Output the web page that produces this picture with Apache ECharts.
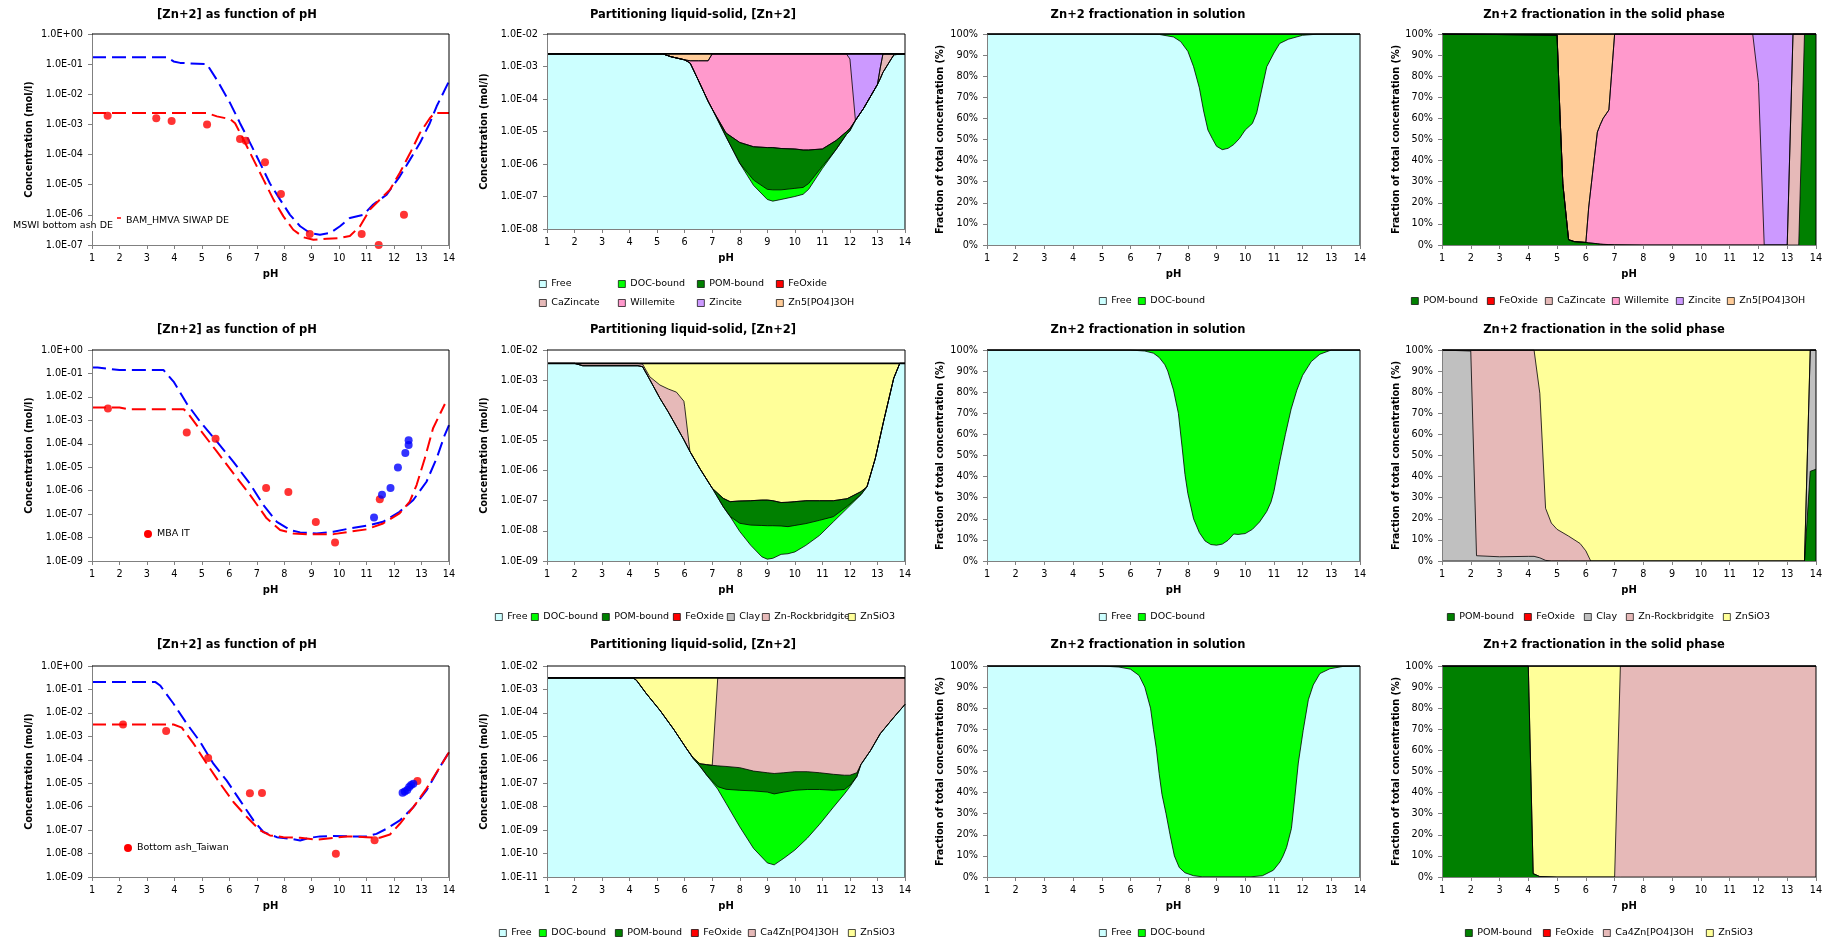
<!DOCTYPE html>
<html><head><meta charset="utf-8">
<script src="https://cdn.jsdelivr.net/npm/echarts@6.0.0/dist/echarts.min.js"></script>
<style>html,body{margin:0;padding:0;background:#fff}#c{width:1826px;height:941px}</style>
</head><body><div id="c"></div><script>
// ---------------- DATA ----------------
// Row 1, panel 1: [Zn+2] as function of pH
const p1_blue_pH = [1, 3.73, 3.97, 4.21, 5.18, 5.55, 6.03, 6.39, 6.76, 7.12, 7.48, 7.85, 8.21, 8.58, 8.94, 9.3, 9.67, 10.03, 10.39, 10.88, 11.24, 11.73, 12.21, 12.58, 12.94, 13.3, 13.55, 13.79, 14];
const p1_blue = [0.17, 0.17, 0.123, 0.11, 0.1, 0.03, 5.1e-3, 1.1e-3, 2.4e-4, 5.2e-5, 1.1e-5, 3.2e-6, 1.0e-6, 4.2e-7, 2.5e-7, 2.2e-7, 2.5e-7, 4.2e-7, 7.9e-7, 1.0e-6, 2.2e-6, 4.7e-6, 1.9e-5, 6.8e-5, 2.4e-4, 1.1e-3, 4.0e-3, 1.1e-2, 2.7e-2];
const p1_red_pH = [1, 5.18, 5.55, 6.03, 6.21, 6.52, 6.88, 7.24, 7.61, 7.97, 8.33, 8.7, 9.06, 9.55, 10.03, 10.39, 10.76, 11.12, 11.48, 11.85, 12.21, 12.58, 12.94, 13.3, 13.48, 14];
const p1_red = [2.4e-3, 2.4e-3, 1.85e-3, 1.5e-3, 1.1e-3, 3.1e-4, 6.8e-5, 1.5e-5, 3.2e-6, 8.9e-7, 3.2e-7, 1.8e-7, 1.5e-7, 1.6e-7, 1.7e-7, 2.0e-7, 4.2e-7, 1.5e-6, 3.2e-6, 6.8e-6, 2.5e-5, 1.1e-4, 5.2e-4, 1.6e-3, 2.4e-3, 2.4e-3];
const p1_dots = [[1.57,1.95e-3],[3.34,1.6e-3],[3.9,1.3e-3],[5.19,1.0e-3],[6.39,3.3e-4],[6.6,2.9e-4],[7.3,5.6e-5],[7.88,4.9e-6],[8.93,2.3e-7],[10.82,2.3e-7],[11.44,1.0e-7],[12.36,1.0e-6]];

// Row 1, panel 2: partitioning liquid-solid (cumulative upper edges of each layer)
const p2_pH = [1, 5.2, 5.5, 6, 6.2, 6.5, 6.85, 7, 7.5, 8, 8.5, 9, 9.2, 9.5, 10, 10.3, 10.5, 11, 11.5, 11.87, 12, 12.2, 12.5, 13, 13.1, 13.2, 13.5, 13.6, 14];
const p2_free = [2.45e-3, 2.45e-3, 2.0e-3, 1.6e-3, 1.27e-3, 3.7e-4, 8.5e-5, 4.9e-5, 6.9e-6, 1.05e-6, 2.2e-7, 8.1e-8, 7.2e-8, 8.1e-8, 1.0e-7, 1.17e-7, 1.66e-7, 7.3e-7, 2.8e-6, 8.0e-6, 1.05e-5, 2.2e-5, 5.2e-5, 2.8e-4, 4.2e-4, 6.6e-4, 1.7e-3, 2.3e-3, 2.45e-3];
const p2_doc = [2.45e-3, 2.45e-3, 2.0e-3, 1.6e-3, 1.27e-3, 3.7e-4, 8.5e-5, 4.9e-5, 6.9e-6, 1.05e-6, 3.2e-7, 1.66e-7, 1.6e-7, 1.6e-7, 1.78e-7, 1.9e-7, 2.5e-7, 8.5e-7, 2.8e-6, 8.0e-6, 1.05e-5, 2.2e-5, 5.2e-5, 2.8e-4, 4.2e-4, 6.6e-4, 1.7e-3, 2.3e-3, 2.45e-3];
const p2_pom = [2.45e-3, 2.45e-3, 2.0e-3, 1.6e-3, 1.27e-3, 3.7e-4, 8.5e-5, 4.9e-5, 9.0e-6, 4.6e-6, 3.4e-6, 3.2e-6, 3.2e-6, 3.0e-6, 2.9e-6, 2.7e-6, 2.7e-6, 2.9e-6, 5.3e-6, 9.8e-6, 1.23e-5, 2.2e-5, 5.2e-5, 2.8e-4, 4.2e-4, 6.6e-4, 1.7e-3, 2.3e-3, 2.45e-3];
const p2_caz = [2.45e-3, 2.45e-3, 2.0e-3, 1.6e-3, 1.27e-3, 3.7e-4, 8.5e-5, 4.9e-5, 9.0e-6, 4.6e-6, 3.4e-6, 3.2e-6, 3.2e-6, 3.0e-6, 2.9e-6, 2.7e-6, 2.7e-6, 2.9e-6, 5.3e-6, 9.8e-6, 1.23e-5, 2.2e-5, 5.2e-5, 2.8e-4, 8.9e-4, 2.45e-3, 2.45e-3, 2.45e-3, 2.45e-3];
const p2_will_pH = [1, 5.2, 5.5, 6, 6.2, 6.5, 6.85, 7, 11.87, 12, 12.2, 12.5, 13, 13.1, 13.2, 14];
const p2_will = [2.45e-3, 2.45e-3, 2.0e-3, 1.6e-3, 1.5e-3, 1.5e-3, 1.5e-3, 2.45e-3, 2.45e-3, 1.7e-3, 2.2e-5, 5.2e-5, 2.8e-4, 8.9e-4, 2.45e-3, 2.45e-3];
const p2_zinc_pH = [1, 5.2, 5.5, 6, 6.2, 6.5, 6.85, 7, 14];
const p2_zinc = [2.45e-3, 2.45e-3, 2.0e-3, 1.6e-3, 1.5e-3, 1.5e-3, 1.5e-3, 2.45e-3, 2.45e-3];
const p2_total_pH = [1, 14];
const p2_total = [2.45e-3, 2.45e-3];

// Row 1, panel 3: fractionation in solution (Free %, rest DOC-bound)
const p3_pH = [1, 6, 7.0, 7.5, 7.75, 8.0, 8.2, 8.4, 8.55, 8.7, 8.85, 9.0, 9.2, 9.4, 9.6, 9.8, 10.0, 10.25, 10.4, 10.55, 10.75, 11.0, 11.2, 11.5, 12.0, 12.5, 14];
const p3_free = [100, 100, 99.8, 98.6, 96.4, 91.8, 84.5, 74.5, 63.5, 54.5, 50.5, 46.8, 45.2, 45.8, 47.6, 50.5, 54.5, 57.6, 62.6, 72, 84.5, 91, 95.5, 97.5, 99.4, 99.9, 100];

// Row 1, panel 4: fractionation in the solid phase (cumulative %)
const p4_pH = [1, 5.0, 5.1, 5.2, 5.4, 5.6, 6.0, 6.1, 6.25, 6.4, 6.5, 6.6, 6.8, 7.0, 8.0, 11.8, 12.0, 12.2, 13.0, 13.2, 13.4, 13.6, 14];
const p4_pom = [100, 99.5, 62, 29, 2.5, 1.6, 1.2, 1.0, 0.8, 0.6, 0.4, 0.3, 0.2, 0.1, 0, 0, 0, 0, 0, 0, 0, 100, 100];
const p4_caz = [100, 99.5, 62, 29, 2.5, 1.6, 1.2, 1.0, 0.8, 0.6, 0.4, 0.3, 0.2, 0.1, 0, 0, 0, 0, 0, 100, 100, 100, 100];
const p4_will = [100, 99.5, 62, 29, 2.5, 1.6, 1.2, 18, 36, 53.5, 57, 60, 64, 100, 100, 100, 77, 0, 0, 100, 100, 100, 100];
const p4_zinc = [100, 99.5, 62, 29, 2.5, 1.6, 1.2, 18, 36, 53.5, 57, 60, 64, 100, 100, 100, 100, 100, 100, 100, 100, 100, 100];
const pct_top_pH = [1, 14];
const pct_top = [100, 100];

// Row 2, panel 5
const p5_blue_pH = [1, 1.2, 2.0, 3.6, 3.97, 4.45, 4.94, 5.55, 6.15, 6.76, 7.24, 7.73, 8.21, 8.58, 9.18, 9.79, 10.39, 11.0, 11.6, 12.2, 12.7, 13.18, 13.55, 13.84, 14];
const p5_blue = [0.178, 0.178, 0.141, 0.141, 0.045, 5.2e-3, 8.7e-4, 1.23e-4, 1.7e-5, 1.9e-6, 2.45e-7, 4.7e-8, 2.1e-8, 1.66e-8, 1.5e-8, 1.78e-8, 2.45e-8, 3.2e-8, 4.7e-8, 1.26e-7, 4.0e-7, 2.4e-6, 2.4e-5, 2.3e-4, 6.3e-4];
const p5_red_pH = [1, 2.0, 2.3, 4.33, 4.45, 4.94, 5.55, 6.15, 6.76, 7.36, 7.85, 8.33, 8.82, 9.79, 10.39, 11.0, 11.6, 12.2, 12.57, 12.82, 13.12, 13.42, 13.85];
const p5_red = [3.55e-3, 3.55e-3, 3.0e-3, 3.0e-3, 2.35e-3, 3.9e-4, 4.6e-5, 5.5e-6, 6.5e-7, 6.6e-8, 2.1e-8, 1.5e-8, 1.4e-8, 1.4e-8, 1.78e-8, 2.24e-8, 4.0e-8, 1.07e-7, 3.4e-7, 1.74e-6, 2.4e-5, 4.6e-4, 5.0e-3];
const p5_red_dots = [[1.58,3.2e-3],[4.45,3.0e-4],[5.5,1.65e-4],[7.34,1.3e-6],[8.15,8.7e-7],[9.15,4.6e-8],[9.85,6.2e-9],[11.48,4.3e-7]];
const p5_blue_dots = [[11.27,7.2e-8],[11.56,6.7e-7],[11.87,1.3e-6],[12.14,9.8e-6],[12.41,4.0e-5],[12.53,8.9e-5],[12.53,1.4e-4]];

// Row 2, panel 6
const p6_pH = [1, 2, 2.3, 4.3, 4.47, 4.73, 5.1, 5.4, 5.7, 5.97, 6.0, 6.19, 6.55, 7.0, 7.4, 7.65, 8.0, 8.4, 8.8, 9.0, 9.2, 9.5, 9.75, 10.0, 10.4, 10.9, 11.4, 11.9, 12.4, 12.62, 12.92, 13.22, 13.59, 13.81, 14];
const p6_free = [3.6e-3, 3.6e-3, 3.0e-3, 3.0e-3, 2.8e-3, 1.05e-3, 2.5e-4, 8.9e-5, 2.9e-5, 1.05e-5, 9.3e-6, 4.3e-6, 1.17e-6, 2.6e-7, 6.3e-8, 3.0e-8, 9.5e-9, 3.3e-9, 1.38e-9, 1.15e-9, 1.23e-9, 1.66e-9, 1.74e-9, 2.0e-9, 3.3e-9, 7.1e-9, 2.0e-8, 5.6e-8, 1.58e-7, 2.9e-7, 2.5e-6, 4.2e-5, 1.15e-3, 3.6e-3, 3.6e-3];
const p6_doc = [3.6e-3, 3.6e-3, 3.0e-3, 3.0e-3, 2.8e-3, 1.05e-3, 2.5e-4, 8.9e-5, 2.9e-5, 1.05e-5, 9.3e-6, 4.3e-6, 1.17e-6, 2.6e-7, 6.3e-8, 3.0e-8, 1.78e-8, 1.55e-8, 1.51e-8, 1.48e-8, 1.48e-8, 1.45e-8, 1.38e-8, 1.51e-8, 1.74e-8, 2.24e-8, 2.95e-8, 6.5e-8, 1.58e-7, 2.9e-7, 2.5e-6, 4.2e-5, 1.15e-3, 3.6e-3, 3.6e-3];
const p6_pom = [3.6e-3, 3.6e-3, 3.0e-3, 3.0e-3, 2.8e-3, 1.05e-3, 2.5e-4, 8.9e-5, 2.9e-5, 1.05e-5, 9.3e-6, 4.3e-6, 1.17e-6, 2.6e-7, 1.2e-7, 9.3e-8, 9.8e-8, 1.0e-7, 1.05e-7, 1.05e-7, 1.0e-7, 8.7e-8, 8.9e-8, 9.3e-8, 1.0e-7, 1.0e-7, 1.0e-7, 1.17e-7, 2.0e-7, 2.9e-7, 2.5e-6, 4.2e-5, 1.15e-3, 3.6e-3, 3.6e-3];
const p6_rock = [3.6e-3, 3.6e-3, 3.6e-3, 3.6e-3, 3.4e-3, 1.3e-3, 6.9e-4, 5.1e-4, 4.0e-4, 2.0e-4, 1.3e-4, 4.3e-6, 1.17e-6, 2.6e-7, 1.2e-7, 9.3e-8, 9.8e-8, 1.0e-7, 1.05e-7, 1.05e-7, 1.0e-7, 8.7e-8, 8.9e-8, 9.3e-8, 1.0e-7, 1.0e-7, 1.0e-7, 1.17e-7, 2.0e-7, 2.9e-7, 2.5e-6, 4.2e-5, 1.15e-3, 3.6e-3, 3.6e-3];
const p6_total_pH = [1, 14];
const p6_total = [3.6e-3, 3.6e-3];

// Row 2, panel 7
const p7_pH = [1, 6, 6.5, 6.8, 7.0, 7.2, 7.3, 7.5, 7.67, 7.8, 7.9, 8.0, 8.2, 8.4, 8.6, 8.8, 9.0, 9.2, 9.4, 9.6, 9.75, 10.0, 10.25, 10.5, 10.75, 10.9, 11.0, 11.2, 11.4, 11.6, 11.8, 12.0, 12.3, 12.6, 13.0, 14];
const p7_free = [100, 100, 99.5, 98.5, 96.5, 93, 90, 81, 70, 54, 41, 32, 20, 13.5, 9.5, 7.8, 7.5, 8.0, 9.8, 12.8, 12.6, 13, 15, 18.5, 23.5, 28, 33, 47, 60, 72, 81, 88, 94.5, 98, 100, 100];

// Row 2, panel 8
const p8_pH = [1, 2, 2.2, 3, 4, 4.2, 4.4, 4.6, 4.8, 5.0, 5.4, 5.8, 6.0, 6.17, 7, 13.6, 13.8, 14];
const p8_pom_pH = [1, 13.6, 13.8, 14];
const p8_pom = [0, 0, 42.5, 43.5];
const p8_clay = [100, 99.5, 2.5, 2, 2.2, 2.2, 1.5, 0.3, 0, 0, 0, 0, 0, 0, 0, 0, 100, 100];
const p8_rock = [100, 100, 100, 100, 100, 100, 79.5, 25, 18, 15, 11.8, 8.3, 4.8, 0, 0, 0, 100, 100];

// Row 3, panel 9
const p9_blue_pH = [1, 3.3, 3.48, 3.97, 4.45, 4.94, 5.42, 5.9, 6.39, 6.88, 7.24, 7.73, 8.21, 8.58, 8.94, 9.3, 9.79, 10.39, 11.0, 11.36, 11.73, 12.21, 12.7, 13.18, 13.67, 14];
const p9_blue = [0.21, 0.21, 0.148, 0.0245, 3.5e-3, 5.8e-4, 6.8e-5, 1.32e-5, 1.86e-6, 2.6e-7, 8.3e-8, 5.0e-8, 4.3e-8, 3.6e-8, 4.7e-8, 5.4e-8, 5.6e-8, 5.4e-8, 5.4e-8, 6.9e-8, 1.15e-7, 2.6e-7, 9.5e-7, 4.9e-6, 4.9e-5, 2.1e-4];
const p9_red_pH = [1, 3.97, 4.27, 4.7, 5.18, 5.67, 6.15, 6.64, 7.12, 7.48, 7.97, 8.58, 9.18, 9.79, 10.27, 11.0, 11.48, 11.85, 12.21, 12.7, 13.18, 13.67, 14];
const p9_red = [3.2e-3, 3.2e-3, 2.35e-3, 4.9e-4, 6.8e-5, 9.5e-6, 1.58e-6, 3.6e-7, 9.8e-8, 5.9e-8, 5.0e-8, 4.7e-8, 3.9e-8, 4.7e-8, 5.4e-8, 5.0e-8, 4.7e-8, 6.5e-8, 1.86e-7, 9.5e-7, 5.9e-6, 4.9e-5, 2.1e-4];
const p9_red_dots = [[2.13,3.2e-3],[3.7,1.7e-3],[5.23,1.18e-4],[6.75,3.7e-6],[7.19,3.8e-6],[9.88,9.8e-9],[11.29,3.7e-8],[12.85,1.23e-5]];
const p9_blue_dots = [[12.31,3.9e-6],[12.39,4.4e-6],[12.48,5.2e-6],[12.55,6.9e-6],[12.62,8.3e-6],[12.7,9.5e-6]];

// Row 3, panel 10
const p10_pH = [1, 4.13, 4.25, 4.6, 5.1, 5.6, 6.07, 6.3, 6.55, 6.8, 7.0, 7.2, 7.5, 8.0, 8.5, 9.0, 9.25, 9.6, 10.0, 10.45, 10.9, 11.4, 11.8, 12.0, 12.25, 12.4, 12.75, 13.1, 13.6, 14];
const p10_free = [3.1e-3, 3.1e-3, 2.45e-3, 6.8e-4, 1.29e-4, 2.0e-5, 2.95e-6, 1.17e-6, 5.4e-7, 2.2e-7, 1.12e-7, 5.6e-8, 1.4e-8, 1.38e-9, 1.66e-10, 4.0e-11, 3.3e-11, 6.3e-11, 1.41e-10, 4.5e-10, 1.78e-9, 9.5e-9, 3.5e-8, 7.1e-8, 1.9e-7, 6.3e-7, 2.5e-6, 1.29e-5, 6.6e-5, 2.3e-4];
const p10_doc = [3.1e-3, 3.1e-3, 2.45e-3, 6.8e-4, 1.29e-4, 2.0e-5, 2.95e-6, 1.17e-6, 5.4e-7, 2.2e-7, 1.26e-7, 7.1e-8, 5.5e-8, 5.0e-8, 4.7e-8, 4.2e-8, 3.5e-8, 4.2e-8, 5.0e-8, 5.4e-8, 5.4e-8, 5.0e-8, 5.4e-8, 8.3e-8, 1.9e-7, 6.3e-7, 2.5e-6, 1.29e-5, 6.6e-5, 2.3e-4];
const p10_pom = [3.1e-3, 3.1e-3, 2.45e-3, 6.8e-4, 1.29e-4, 2.0e-5, 2.95e-6, 1.25e-6, 6.8e-7, 6.2e-7, 5.8e-7, 5.5e-7, 5.2e-7, 4.6e-7, 3.3e-7, 2.8e-7, 2.6e-7, 2.8e-7, 3.1e-7, 3.1e-7, 2.8e-7, 2.4e-7, 2.2e-7, 2.2e-7, 2.8e-7, 6.3e-7, 2.5e-6, 1.29e-5, 6.6e-5, 2.3e-4];
const p10_ca4_pH = [1, 4.13, 4.25, 4.6, 5.1, 5.6, 6.07, 6.3, 6.55, 6.8, 7.0, 7.2, 14];
const p10_ca4 = [3.1e-3, 3.1e-3, 2.45e-3, 6.8e-4, 1.29e-4, 2.0e-5, 2.95e-6, 1.25e-6, 6.8e-7, 6.2e-7, 5.8e-7, 3.1e-3, 3.1e-3];
const p10_total_pH = [1, 14];
const p10_total = [3.1e-3, 3.1e-3];

// Row 3, panel 11
const p11_pH = [1, 5, 5.6, 6.0, 6.3, 6.5, 6.7, 6.8, 6.9, 7.0, 7.1, 7.24, 7.38, 7.53, 7.7, 7.9, 8.2, 8.5, 10.2, 10.6, 10.98, 11.21, 11.32, 11.44, 11.61, 11.73, 11.85, 12.02, 12.2, 12.37, 12.6, 12.95, 13.41, 14];
const p11_free = [100, 100, 99.5, 98.5, 95.5, 90, 80, 70, 61, 49, 39, 30, 20, 10, 4.5, 2, 0.6, 0.1, 0.1, 0.6, 3.2, 7.1, 10, 14, 23, 38, 54, 69.5, 84, 91, 96.4, 98.7, 99.8, 100];

// Row 3, panel 12
const p12_pH = [1, 4.0, 4.17, 4.4, 5.0, 7.0, 7.2, 14];
const p12_pom = [100, 100, 1.6, 0.2, 0, 0, 0, 0];
const p12_ca4 = [100, 100, 1.6, 0.2, 0, 0, 100, 100];

// ---------------- STYLE / LAYOUT ----------------
const FONT = 'DejaVu Sans';
const TXT = '#000';
const AX = '#808080';
const C = {free:'#CCFFFF', doc:'#00FF00', pom:'#008000', fe:'#FF0000', caz:'#E6B9B8', will:'#FF99CC', zinc:'#CC99FF', zn5:'#FFCC99', clay:'#C0C0C0', rock:'#E6B9B8', znsio3:'#FFFF99', ca4:'#E6B9B8'};
const COLS = [{l:92,w:357,g:58,cx:237},{l:547,w:358,g:58,cx:693},{l:987,w:373,g:42,cx:1148},{l:1442,w:374,g:40,cx:1604}];
const ROWS = [{t:34,b:245,ty:16},{t:350,b:561,ty:331},{t:666,b:877,ty:646}];

function fmtE(v){ const e = Math.round(Math.log10(v)); const a = Math.abs(e); return '1.0E' + (e < 0 ? '-' : '+') + (a < 10 ? '0' : '') + a; }

const grids=[], xAxes=[], yAxes=[], series=[], titles=[], legends=[], graphics=[];

function makePanel(r, c, kind, yMin, yMax, title, yName, bottom) {
  const i = grids.length, col = COLS[c], row = ROWS[r];
  const t = row.t, b = bottom || row.b;
  grids.push({left: col.l, top: t, width: col.w, height: b - t, outerBoundsMode: 'none', containLabel: false, show: true, backgroundColor: '#fff', borderWidth: 0});
  xAxes.push({gridIndex: i, type: 'value', min: 1, max: 14, interval: 1, z: 10,
    name: 'pH', nameLocation: 'middle', nameGap: 24,
    nameTextStyle: {fontFamily: FONT, fontSize: 10, fontWeight: 'bold', color: TXT},
    axisLine: {show: true, onZero: false, lineStyle: {color: AX, width: 1}},
    axisTick: {show: true, inside: false, length: 4, lineStyle: {color: AX}},
    axisLabel: {show: true, fontFamily: FONT, fontSize: 9.7, color: TXT, margin: 8},
    splitLine: {show: false}});
  const y = {gridIndex: i, min: yMin, max: yMax, z: 10,
    name: yName, nameLocation: 'middle', nameGap: col.g, nameRotate: 90,
    nameTextStyle: {fontFamily: FONT, fontSize: 9.7, fontWeight: 'bold', color: TXT},
    axisLine: {show: true, lineStyle: {color: AX, width: 1}},
    axisTick: {show: true, inside: false, length: 4, lineStyle: {color: AX}},
    axisLabel: {show: true, fontFamily: FONT, fontSize: 9.7, color: TXT, margin: 9},
    splitLine: {show: false}, minorTick: {show: false}};
  if (kind === 'log') { y.type = 'log'; y.logBase = 10; y.splitNumber = 10; y.axisLabel.formatter = fmtE; }
  else { y.type = 'value'; y.interval = 10; y.axisLabel.formatter = '{value}%'; }
  yAxes.push(y);
  titles.push({text: title, left: col.cx, top: row.ty - 7, textAlign: 'center', padding: 0,
    textStyle: {fontFamily: FONT, fontSize: 11.5, fontWeight: 'bold', color: TXT}});
  graphics.push({type: 'polyline', silent: true, z: 50,
    shape: {points: [[col.l, t], [col.l + col.w, t], [col.l + col.w, b]]},
    style: {stroke: '#000', fill: null, lineWidth: 1}});
  return i;
}
function dashed(i, name, xs, ys, color) {
  series.push({type: 'line', name, xAxisIndex: i, yAxisIndex: i, data: xs.map((x, k) => [x, ys[k]]),
    symbol: 'none', silent: true, z: 3, lineStyle: {color, width: 2, type: [14, 6]}, itemStyle: {color}});
}
function dots(i, name, pts, color) {
  series.push({type: 'scatter', name, xAxisIndex: i, yAxisIndex: i, data: pts, symbol: 'circle', symbolSize: 8,
    clip: false, silent: true, z: 4, itemStyle: {color}});
}
function stack(i, origin, layers) { // layers listed bottom -> top, each y = cumulative upper edge
  for (let k = layers.length - 1; k >= 0; k--) {
    const L = layers[k];
    series.push({type: 'line', name: L.name, xAxisIndex: i, yAxisIndex: i,
      data: L.x ? L.x.map((x, j) => [x, L.y[j]]) : [],
      symbol: 'none', silent: true, z: 2, smooth: false,
      lineStyle: {color: '#000', width: k === layers.length - 1 ? 1.6 : 0.8},
      areaStyle: {color: L.color, opacity: 1, origin},
      itemStyle: {color: L.color}});
  }
}
function legendItem(name, color, x, y, icon) {
  const circ = icon === 'circle';
  legends.push({show: true, left: x, top: y - 6, padding: 0, orient: 'horizontal', selectedMode: false,
    itemWidth: circ ? 8 : 7, itemHeight: circ ? 8 : 7,
    textStyle: {fontFamily: FONT, fontSize: 9.5, color: TXT, lineHeight: 12},
    data: [{name, icon: circ ? 'circle' : 'rect',
      itemStyle: {color, borderColor: circ ? color : '#000', borderWidth: circ ? 0 : 0.7, opacity: 1}}]});
}
function legendRow(items, y) { items.forEach(it => legendItem(it[0], it[1], it[2], y, it[3])); }

const T_CONC = '[Zn+2] as function of pH', T_PART = 'Partitioning liquid-solid, [Zn+2]';
const T_SOL = 'Zn+2 fractionation in solution', T_SOLID = 'Zn+2 fractionation in the solid phase';
const Y_CONC = 'Concentration (mol/l)', Y_FRAC = 'Fraction of total concentration (%)';

// ---------- Row 1 ----------
let i = makePanel(0, 0, 'log', 1e-7, 1, T_CONC, Y_CONC);
dashed(i, 'Model total', p1_blue_pH, p1_blue, '#0000FF');
dashed(i, 'Model dissolved', p1_red_pH, p1_red, '#FF0000');
dots(i, 'BAM_HMVA SIWAP DE', p1_dots, '#FF0000');
graphics.push({type: 'text', z: 100, silent: true, x: 12, y: 226,
  style: {text: 'MSWI bottom ash DE', fontFamily: FONT, fontSize: 9.5, fill: '#000', verticalAlign: 'middle', backgroundColor: '#fff', padding: [0, 1, 0, 1]}});
graphics.push({type: 'line', z: 100, silent: true, shape: {x1: 117, y1: 218, x2: 121, y2: 218}, style: {stroke: '#FF0000', lineWidth: 1.5}});
graphics.push({type: 'text', z: 100, silent: true, x: 126, y: 221,
  style: {text: 'BAM_HMVA SIWAP DE', fontFamily: FONT, fontSize: 9.5, fill: '#000', verticalAlign: 'middle'}});

i = makePanel(0, 1, 'log', 1e-8, 1e-2, T_PART, Y_CONC, 229);
stack(i, 1e-8, [
  {name: 'Free', color: C.free, x: p2_pH, y: p2_free},
  {name: 'DOC-bound', color: C.doc, x: p2_pH, y: p2_doc},
  {name: 'POM-bound', color: C.pom, x: p2_pH, y: p2_pom},
  {name: 'FeOxide', color: C.fe},
  {name: 'CaZincate', color: C.caz, x: p2_pH, y: p2_caz},
  {name: 'Willemite', color: C.will, x: p2_will_pH, y: p2_will},
  {name: 'Zincite', color: C.zinc, x: p2_zinc_pH, y: p2_zinc},
  {name: 'Zn5[PO4]3OH', color: C.zn5, x: p2_total_pH, y: p2_total}]);

i = makePanel(0, 2, 'pct', 0, 100, T_SOL, Y_FRAC);
stack(i, 0, [
  {name: 'Free', color: C.free, x: p3_pH, y: p3_free},
  {name: 'DOC-bound', color: C.doc, x: pct_top_pH, y: pct_top}]);

i = makePanel(0, 3, 'pct', 0, 100, T_SOLID, Y_FRAC);
stack(i, 0, [
  {name: 'POM-bound', color: C.pom, x: p4_pH, y: p4_pom},
  {name: 'FeOxide', color: C.fe},
  {name: 'CaZincate', color: C.caz, x: p4_pH, y: p4_caz},
  {name: 'Willemite', color: C.will, x: p4_pH, y: p4_will},
  {name: 'Zincite', color: C.zinc, x: p4_pH, y: p4_zinc},
  {name: 'Zn5[PO4]3OH', color: C.zn5, x: pct_top_pH, y: pct_top}]);

// ---------- Row 2 ----------
i = makePanel(1, 0, 'log', 1e-9, 1, T_CONC, Y_CONC);
dashed(i, 'Model total 2', p5_blue_pH, p5_blue, '#0000FF');
dashed(i, 'Model dissolved 2', p5_red_pH, p5_red, '#FF0000');
dots(i, 'MBA IT', p5_red_dots, '#FF0000');
dots(i, 'MBA IT (2)', p5_blue_dots, '#0000FF');

i = makePanel(1, 1, 'log', 1e-9, 1e-2, T_PART, Y_CONC);
stack(i, 1e-9, [
  {name: 'Free', color: C.free, x: p6_pH, y: p6_free},
  {name: 'DOC-bound', color: C.doc, x: p6_pH, y: p6_doc},
  {name: 'POM-bound', color: C.pom, x: p6_pH, y: p6_pom},
  {name: 'FeOxide', color: C.fe},
  {name: 'Clay', color: C.clay},
  {name: 'Zn-Rockbridgite', color: C.rock, x: p6_pH, y: p6_rock},
  {name: 'ZnSiO3', color: C.znsio3, x: p6_total_pH, y: p6_total}]);

i = makePanel(1, 2, 'pct', 0, 100, T_SOL, Y_FRAC);
stack(i, 0, [
  {name: 'Free', color: C.free, x: p7_pH, y: p7_free},
  {name: 'DOC-bound', color: C.doc, x: pct_top_pH, y: pct_top}]);

i = makePanel(1, 3, 'pct', 0, 100, T_SOLID, Y_FRAC);
stack(i, 0, [
  {name: 'POM-bound', color: C.pom, x: p8_pom_pH, y: p8_pom},
  {name: 'FeOxide', color: C.fe},
  {name: 'Clay', color: C.clay, x: p8_pH, y: p8_clay},
  {name: 'Zn-Rockbridgite', color: C.rock, x: p8_pH, y: p8_rock},
  {name: 'ZnSiO3', color: C.znsio3, x: pct_top_pH, y: pct_top}]);

// ---------- Row 3 ----------
i = makePanel(2, 0, 'log', 1e-9, 1, T_CONC, Y_CONC);
dashed(i, 'Model total 3', p9_blue_pH, p9_blue, '#0000FF');
dashed(i, 'Model dissolved 3', p9_red_pH, p9_red, '#FF0000');
dots(i, 'Bottom ash_Taiwan', p9_red_dots, '#FF0000');
dots(i, 'Bottom ash_Taiwan (2)', p9_blue_dots, '#0000FF');

i = makePanel(2, 1, 'log', 1e-11, 1e-2, T_PART, Y_CONC);
stack(i, 1e-11, [
  {name: 'Free', color: C.free, x: p10_pH, y: p10_free},
  {name: 'DOC-bound', color: C.doc, x: p10_pH, y: p10_doc},
  {name: 'POM-bound', color: C.pom, x: p10_pH, y: p10_pom},
  {name: 'FeOxide', color: C.fe},
  {name: 'Ca4Zn[PO4]3OH', color: C.ca4, x: p10_ca4_pH, y: p10_ca4},
  {name: 'ZnSiO3', color: C.znsio3, x: p10_total_pH, y: p10_total}]);

i = makePanel(2, 2, 'pct', 0, 100, T_SOL, Y_FRAC);
stack(i, 0, [
  {name: 'Free', color: C.free, x: p11_pH, y: p11_free},
  {name: 'DOC-bound', color: C.doc, x: pct_top_pH, y: pct_top}]);

i = makePanel(2, 3, 'pct', 0, 100, T_SOLID, Y_FRAC);
stack(i, 0, [
  {name: 'POM-bound', color: C.pom, x: p12_pH, y: p12_pom},
  {name: 'FeOxide', color: C.fe},
  {name: 'Ca4Zn[PO4]3OH', color: C.ca4, x: p12_pH, y: p12_ca4},
  {name: 'ZnSiO3', color: C.znsio3, x: pct_top_pH, y: pct_top}]);

// ---------- Legends ----------
legendRow([['Free', C.free, 539], ['DOC-bound', C.doc, 618], ['POM-bound', C.pom, 697], ['FeOxide', C.fe, 776]], 284);
legendRow([['CaZincate', C.caz, 539], ['Willemite', C.will, 618], ['Zincite', C.zinc, 697], ['Zn5[PO4]3OH', C.zn5, 776]], 303);
legendRow([['Free', C.free, 1099], ['DOC-bound', C.doc, 1138]], 301);
legendRow([['POM-bound', C.pom, 1411], ['FeOxide', C.fe, 1487], ['CaZincate', C.caz, 1545], ['Willemite', C.will, 1612], ['Zincite', C.zinc, 1676], ['Zn5[PO4]3OH', C.zn5, 1727]], 301);
legendRow([['MBA IT', '#FF0000', 144, 'circle']], 534);
legendRow([['Free', C.free, 495], ['DOC-bound', C.doc, 531], ['POM-bound', C.pom, 602], ['FeOxide', C.fe, 673], ['Clay', C.clay, 727], ['Zn-Rockbridgite', C.rock, 762], ['ZnSiO3', C.znsio3, 848]], 617);
legendRow([['Free', C.free, 1099], ['DOC-bound', C.doc, 1138]], 617);
legendRow([['POM-bound', C.pom, 1447], ['FeOxide', C.fe, 1524], ['Clay', C.clay, 1584], ['Zn-Rockbridgite', C.rock, 1626], ['ZnSiO3', C.znsio3, 1723]], 617);
legendRow([['Bottom ash_Taiwan', '#FF0000', 124, 'circle']], 848);
legendRow([['Free', C.free, 499], ['DOC-bound', C.doc, 539], ['POM-bound', C.pom, 615], ['FeOxide', C.fe, 691], ['Ca4Zn[PO4]3OH', C.ca4, 748], ['ZnSiO3', C.znsio3, 848]], 933);
legendRow([['Free', C.free, 1099], ['DOC-bound', C.doc, 1138]], 933);
legendRow([['POM-bound', C.pom, 1465], ['FeOxide', C.fe, 1543], ['Ca4Zn[PO4]3OH', C.ca4, 1603], ['ZnSiO3', C.znsio3, 1706]], 933);

const chart = echarts.init(document.getElementById('c'), null, {renderer: 'canvas'});
chart.setOption({
  animation: false, backgroundColor: '#fff', tooltip: {show: false},
  title: titles, grid: grids, xAxis: xAxes, yAxis: yAxes, legend: legends, series, graphic: graphics
});
</script></body></html>
